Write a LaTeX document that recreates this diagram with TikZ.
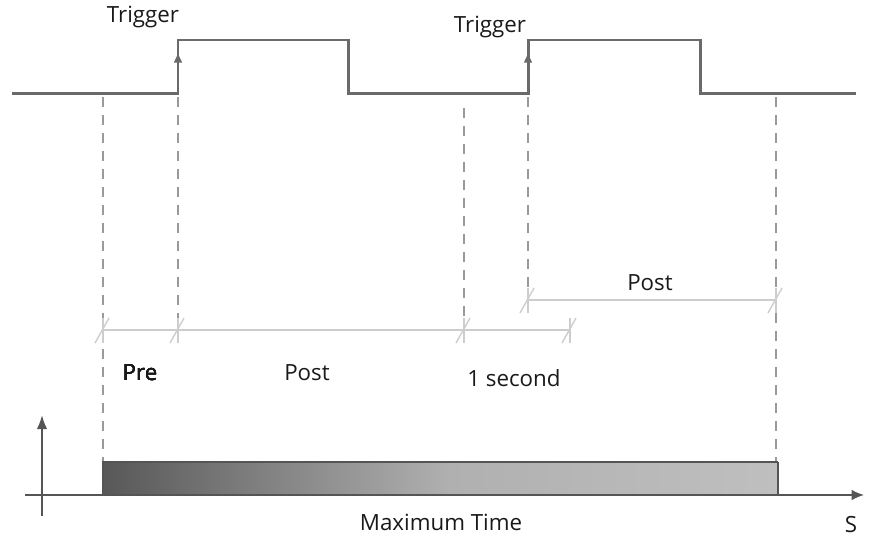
\documentclass[tikz,border=0pt]{standalone}
\usepackage{fontspec}
\setmainfont{Open Sans}
\usetikzlibrary{arrows.meta,positioning,calc}
\definecolor{wavegray}{HTML}{6A6A6A}
\definecolor{guidegray}{HTML}{9A9A9A}
\definecolor{dimgray}{HTML}{CDCDCD}
\definecolor{axisgray}{HTML}{555555}
\definecolor{bardark}{HTML}{585858}
\definecolor{barmid}{HTML}{B0B0B0}
\definecolor{barlight}{HTML}{BFBFBF}
\tikzset{
  guide/.style={guidegray,line width=0.7pt,dash pattern=on 2mm off 1.6mm},
  dimline/.style={dimgray,line width=0.8pt},
  tlabel/.style={font=\fontsize{12.7}{14}\selectfont,text=black!90},
}
\newcommand{\dimtick}[1]{%
  \draw[dimline] ($(#1)+(-8,13)$) -- ($(#1)+(6,-12)$);
  \draw[dimline] ($(#1)+(0,-12)$) -- ($(#1)+(0,13)$);}

\begin{document}
\begin{tikzpicture}[x=0.02cm,y=-0.02cm]
  \useasboundingbox (0,0) rectangle (881,542);
  % trigger signal
  \draw[wavegray,line width=1.7pt] (12,93) -- (178,93) -- (178,40) -- (348,40) -- (348,93)
       -- (528,93) -- (528,40) -- (700,40) -- (700,93) -- (856,93);
  \foreach \x in {178,528}
    \draw[wavegray,line width=1.2pt,-{Latex[length=6pt,width=5pt]}] (\x,72) -- (\x,52);
  \node[tlabel] (trig1) at (143,17) {Trigger};
  \node[tlabel] (trig2) at (490,27) {Trigger};
  % time marks
  \coordinate (tpre) at (103,330);
  \coordinate (trise1) at (178,330);
  \coordinate (tsec) at (464,330);
  \coordinate (tend) at (570,330);
  \coordinate (trise2) at (528,300);
  \coordinate (tmax) at (776,300);
  \coordinate (barl) at (103,462);
  \coordinate (barr) at (776,462);
  % guide lines
  \draw[guide] (103,97) -- (barl);
  \draw[guide] (178,97) -- (trise1);
  \draw[guide] (464,108) -- (tsec);
  \draw[guide] (528,97) -- (trise2);
  \draw[guide] (776,97) -- (barr);
  % intervals
  \draw[dimline] (tpre) -- (tend);
  \draw[dimline] (trise2) -- (tmax);
  \foreach \t in {tpre,trise1,tsec,tend,trise2,tmax}
    \dimtick{\t}
  \node[tlabel] (pre) at (140,373) {Pre};
  \node[tlabel] (post1) at (307,373) {Post};
  \node[tlabel] (onesec) at (514,378) {1 second};
  \node[tlabel] (post2) at (650,283) {Post};
  % maximum time bar
  \shade[left color=bardark,right color=barmid] (103,462) rectangle (450,495);
  \shade[left color=barmid,right color=barlight] (450,462) rectangle (778,495);
  \draw[axisgray,line width=0.8pt] (103,495) -- (103,462);
  \draw[axisgray,line width=1.2pt] (102,462) -- (778,462);
  \draw[axisgray,line width=1.4pt] (778,462) -- (778,495);
  % axes
  \draw[axisgray,line width=0.9pt,-{Latex[length=7pt,width=6pt]}] (25,495) -- (864,495);
  \draw[axisgray,line width=1.1pt,-{Latex[length=8pt,width=6pt]}] (42,516) -- (42,415);
  \node[tlabel] (maxtime) at (441,522) {Maximum Time};
  \node[tlabel] (unit) at (851,525) {S};
\end{tikzpicture}
\end{document}
